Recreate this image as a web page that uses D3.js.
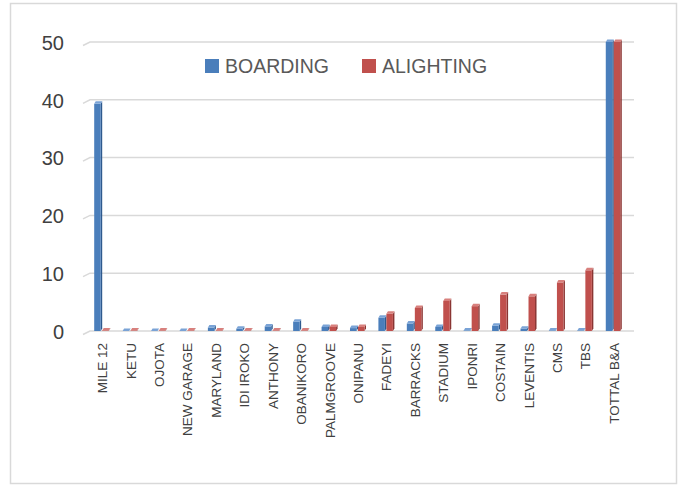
<!DOCTYPE html>
<html>
<head>
<meta charset="utf-8">
<script src="https://cdn.jsdelivr.net/npm/d3@7/dist/d3.min.js"></script>
<style>
  html, body { margin: 0; padding: 0; background: #fff; }
  svg { display: block; }
</style>
</head>
<body>
<svg id="chart" width="681" height="486"></svg>
<script>
// Stops along the route
const categories = ["MILE 12", "KETU", "OJOTA", "NEW GARAGE", "MARYLAND", "IDI IROKO",
  "ANTHONY", "OBANIKORO", "PALMGROOVE", "ONIPANU", "FADEYI", "BARRACKS", "STADIUM",
  "IPONRI", "COSTAIN", "LEVENTIS", "CMS", "TBS", "TOTTAL B&A"];

// Passengers boarding / alighting at each stop
const boarding  = [39.3, 0, 0, 0, 0.6, 0.4, 0.8, 1.6, 0.7, 0.5, 2.3, 1.3, 0.7, 0.1, 0.9, 0.4, 0.1, 0.1, 50];
const alighting = [0.1, 0.1, 0.1, 0.1, 0.1, 0.1, 0.1, 0.1, 0.7, 0.7, 3.0, 4.0, 5.2, 4.3, 6.3, 6.0, 8.4, 10.5, 50];

const seriesNames = ["BOARDING", "ALIGHTING"];
const yTicks = [0, 10, 20, 30, 40, 50];

const colors = {
  BOARDING:  { front: "#4a7ebb", side: "#2f5a8e", top: "#7aa3d6" },
  ALIGHTING: { front: "#c0504d", side: "#8a3533", top: "#d8807d" }
};

const svg = d3.select("#chart");

// outer frame
svg.append("rect")
  .attr("x", 10.5).attr("y", 3.5)
  .attr("width", 666).attr("height", 480)
  .attr("fill", "#fff")
  .attr("stroke", "#d9d9d9").attr("stroke-width", 1.5);

const x = d3.scaleBand().domain(categories).range([88, 628]).padding(0);
const xs = d3.scaleBand().domain(seriesNames).range([6.2, 22.2]).padding(0);
const y = d3.scaleLinear().domain([0, 50]).range([331, 42]);

const depth = 2.5; // 3D offset of the back faces

// gridlines with the 3D floor corner on the left
const grid = svg.append("g");
yTicks.forEach(t => {
  const yy = y(t);
  grid.append("path")
    .attr("d", `M83,${yy + 3.5}L90,${yy}L634,${yy}`)
    .attr("fill", "none")
    .attr("stroke", "#d9d9d9")
    .attr("stroke-width", 1.5);
});

// y axis labels
const yAxis = d3.axisLeft(y).tickValues(yTicks).tickSize(0).tickPadding(0);
const yg = svg.append("g").attr("transform", "translate(64,0)").call(yAxis);
yg.select(".domain").remove();
yg.selectAll("text")
  .attr("font-family", "'Liberation Sans', Arial, sans-serif")
  .attr("font-size", 20)
  .attr("fill", "#404040")
  .attr("dy", "0.36em");

// bars (front, side and top faces)
const rows = categories.map((c, i) => ({ c, BOARDING: boarding[i], ALIGHTING: alighting[i] }));
const barW = xs.bandwidth() - 1.5;

const groups = svg.append("g").selectAll("g")
  .data(rows).join("g")
  .attr("transform", d => `translate(${x(d.c)},0)`);

seriesNames.forEach(s => {
  const col = colors[s];
  const bx = xs(s);
  // side face
  groups.append("path")
    .attr("fill", col.side)
    .attr("d", d => {
      const x0 = bx + barW, yt = y(d[s]), yb = y(0);
      return `M${x0},${yt}L${x0 + 1.5},${yt - depth}L${x0 + 1.5},${yb - depth}L${x0},${yb}Z`;
    });
  // front face
  groups.append("rect")
    .attr("x", bx)
    .attr("y", d => y(d[s]))
    .attr("width", barW)
    .attr("height", d => y(0) - y(d[s]))
    .attr("fill", col.front);
  // top face
  groups.append("path")
    .attr("fill", col.top)
    .attr("d", d => {
      const yt = y(d[s]);
      return `M${bx},${yt}L${bx + 1.5},${yt - depth}L${bx + barW + 1.5},${yt - depth}L${bx + barW},${yt}Z`;
    });
});

// category labels, rotated
const xAxis = d3.axisBottom(x).tickSize(0).tickPadding(0);
const xg = svg.append("g").attr("transform", "translate(0,343)").call(xAxis);
xg.select(".domain").remove();
xg.selectAll("text")
  .attr("font-family", "'Liberation Sans', Arial, sans-serif")
  .attr("font-size", 13.5)
  .attr("fill", "#404040")
  .attr("text-anchor", "end")
  .attr("dy", null)
  .attr("y", 0)
  .attr("transform", "translate(5,0) rotate(-90)");

// legend
const legend = svg.append("g");
const legendItems = [
  { name: "BOARDING", x: 205 },
  { name: "ALIGHTING", x: 362 }
];
legendItems.forEach(it => {
  legend.append("rect")
    .attr("x", it.x).attr("y", 59)
    .attr("width", 14).attr("height", 14)
    .attr("fill", colors[it.name].front);
  legend.append("text")
    .attr("x", it.x + 20).attr("y", 73)
    .attr("font-family", "'Liberation Sans', Arial, sans-serif")
    .attr("font-size", 19.5)
    .attr("fill", "#595959")
    .text(it.name);
});
</script>
</body>
</html>
